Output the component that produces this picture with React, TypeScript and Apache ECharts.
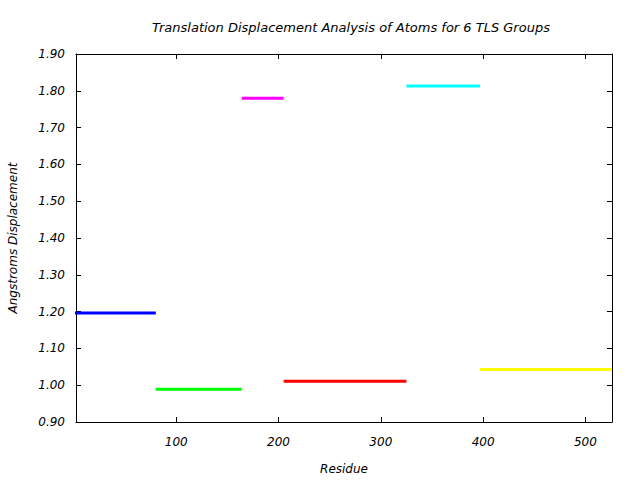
import React, { useEffect, useRef } from "react";
import * as echarts from "echarts";

const groupStarts = [1, 80, 164, 205, 325, 397];
const groupEnds = [80, 164, 205, 325, 397, 526];
const displacements = [1.196, 0.989, 1.780, 1.011, 1.813, 1.043];
const groupColors = ["#0000ff", "#00ff00", "#ff00ff", "#ff0000", "#00ffff", "#ffff00"];
const xTicks = [100, 200, 300, 400, 500];

const FONT = "DejaVu Sans";

export default function App() {
  const ref = useRef<HTMLDivElement>(null);
  useEffect(() => {
    if (!ref.current) return;
    const chart = echarts.init(ref.current, null, { renderer: "svg" });
    const series = displacements.map((v, i) => ({
      type: "line",
      xAxisIndex: 0,
      yAxisIndex: 0,
      data: [
        [groupStarts[i], v],
        [groupEnds[i], v],
      ],
      showSymbol: false,
      symbol: "none",
      lineStyle: { color: groupColors[i], width: 3 },
      silent: true,
    }));
    const axisLineStyle = { show: true, lineStyle: { color: "#000", width: 1 } };
    chart.setOption({
      animation: false,
      backgroundColor: "#fff",
      title: {
        text: "Translation Displacement Analysis of Atoms for 6 TLS Groups",
        left: 346,
        top: 16,
        textAlign: "center",
        textStyle: { fontFamily: FONT, fontStyle: "italic", fontWeight: "normal", fontSize: 13, color: "#000" },
      },
      grid: { left: 76, right: 28, top: 54, bottom: 58, containLabel: false, outerBoundsMode: "none" },
      xAxis: [
        {
          type: "value",
          min: 2,
          max: 526,
          position: "bottom",
          name: "Residue",
          nameLocation: "middle",
          nameGap: 41,
          nameTextStyle: { fontFamily: FONT, fontStyle: "italic", fontSize: 12, color: "#000" },
          axisLine: axisLineStyle,
          axisTick: { show: true, inside: true, length: 5, customValues: xTicks, lineStyle: { color: "#000" } },
          axisLabel: {
            customValues: xTicks,
            margin: 14,
            fontFamily: FONT,
            fontStyle: "italic",
            fontSize: 12,
            color: "#000",
          },
          splitLine: { show: false },
        },
        {
          type: "value",
          min: 2,
          max: 526,
          position: "top",
          axisLine: axisLineStyle,
          axisTick: { show: true, inside: true, length: 5, customValues: xTicks, lineStyle: { color: "#000" } },
          axisLabel: { show: false },
          splitLine: { show: false },
        },
      ],
      yAxis: [
        {
          type: "value",
          min: 0.9,
          max: 1.9,
          interval: 0.1,
          position: "left",
          name: "Angstroms Displacement",
          nameLocation: "middle",
          nameGap: 57,
          nameRotate: 90,
          nameTextStyle: { fontFamily: FONT, fontStyle: "italic", fontSize: 12, color: "#000" },
          axisLine: axisLineStyle,
          axisTick: { show: true, inside: true, length: 5, lineStyle: { color: "#000" } },
          axisLabel: {
            margin: 11,
            fontFamily: FONT,
            fontStyle: "italic",
            fontSize: 12,
            color: "#000",
            formatter: (v: number) => v.toFixed(2),
          },
          splitLine: { show: false },
        },
        {
          type: "value",
          min: 0.9,
          max: 1.9,
          interval: 0.1,
          position: "right",
          axisLine: axisLineStyle,
          axisTick: { show: true, inside: true, length: 5, lineStyle: { color: "#000" } },
          axisLabel: { show: false },
          splitLine: { show: false },
        },
      ],
      series,
    });
    return () => chart.dispose();
  }, []);
  return <div ref={ref} style={{ width: 640, height: 480, position: "absolute", left: 0, top: 0 }} />;
}
